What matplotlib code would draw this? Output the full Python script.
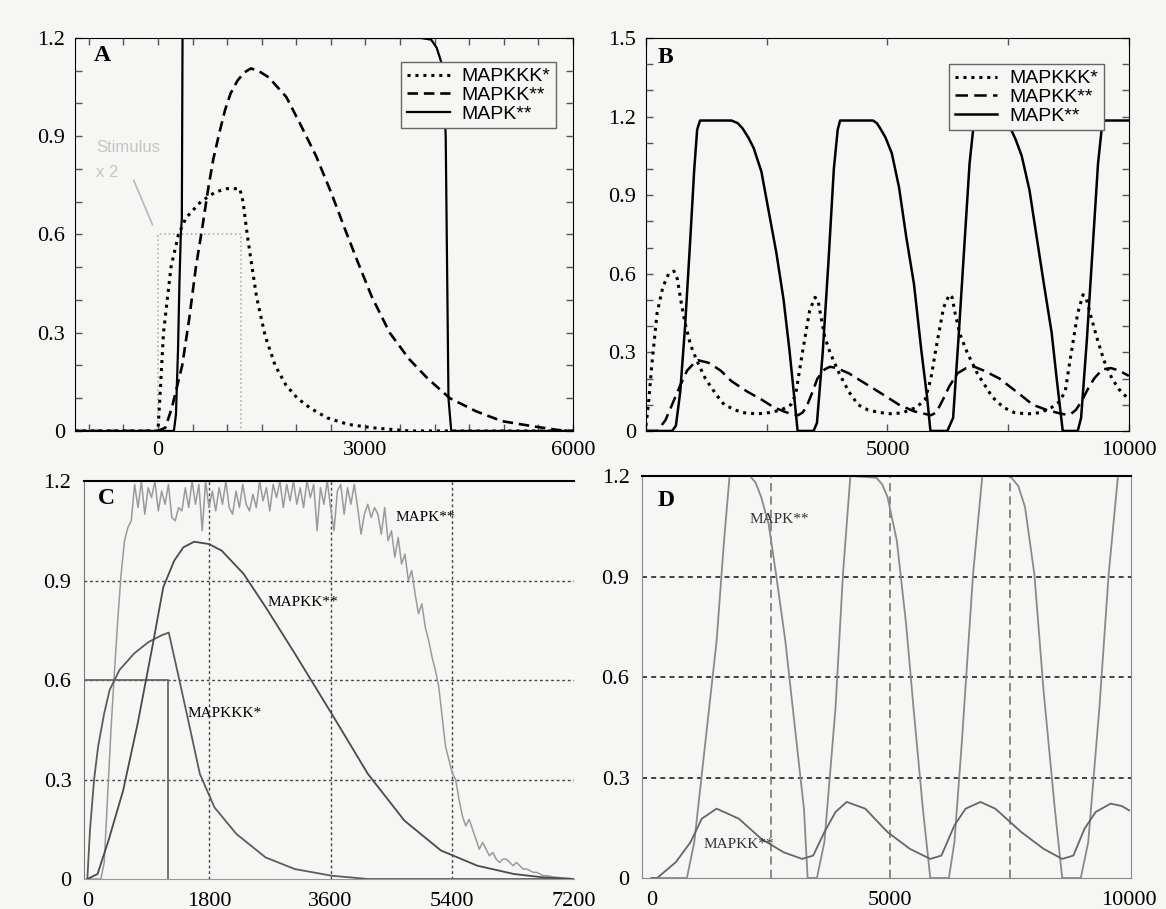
import numpy as np
import matplotlib
matplotlib.use('Agg')
import matplotlib.pyplot as plt

plt.rcParams['font.family'] = 'Liberation Serif'
plt.rcParams['font.size'] = 16

# ---- panel A: transient stimulus ----
stim_t = [0, 0, 1200, 1200]
stim_y = [0, 0.6, 0.6, 0]

a_mapkkk_t = [-1200, 0, 27, 80, 188, 296, 403, 618, 833, 1000, 1183, 1230, 1290, 1360, 1425,
              1550, 1694, 1850, 2016, 2200, 2446, 2750, 3091, 3629, 6000]
a_mapkkk_y = [0, 0, 0.1, 0.3, 0.5, 0.6, 0.65, 0.70, 0.73, 0.74, 0.74, 0.70, 0.6, 0.5, 0.41,
              0.29, 0.2, 0.14, 0.10, 0.07, 0.04, 0.02, 0.01, 0.0, 0.0]

a_mapkk_t = [-1200, 0, 107, 200, 350, 450, 548, 640, 726, 800, 887, 970, 1048, 1150, 1250, 1344,
             1450, 1600, 1855, 2050, 2285, 2500, 2715, 2900, 3091, 3350, 3629, 3900, 4220, 4600,
             4973, 5400, 5780, 6000]
a_mapkk_y = [0, 0, 0.01, 0.07, 0.2, 0.34, 0.5, 0.62, 0.74, 0.83, 0.91, 0.98, 1.03, 1.07, 1.095, 1.107,
             1.1, 1.08, 1.02, 0.94, 0.84, 0.73, 0.61, 0.51, 0.41, 0.3, 0.22, 0.16, 0.10, 0.06,
             0.03, 0.015, 0.003, 0]

a_mapk_t = [-1200, 230, 260, 290, 310, 330, 345, 355, 3800, 3950, 4030, 4090, 4120, 4160, 4200, 4240, 6000]
a_mapk_y = [0, 0, 0.05, 0.25, 0.45, 0.6, 0.65, 1.2, 1.2, 1.195, 1.17, 1.13, 1.09, 0.9, 0.1, 0, 0]

# ---- panel B: sustained stimulus, oscillations ----
b_mapkkk_t = [0, 50, 120, 230, 350, 470, 580, 650, 720, 800, 920, 1050, 1230, 1450, 1620, 1850,
              2000, 2300, 2550, 2800, 3000, 3100, 3240, 3390, 3500, 3560, 3620, 3700, 3810, 4000,
              4200, 4390, 4600, 4850, 5100, 5320, 5600, 5780, 5900, 6010, 6160, 6280, 6340, 6400,
              6500, 6650, 6860, 7170, 7400, 7630, 7900, 8170, 8400, 8550, 8680, 8790, 8940, 9050,
              9110, 9210, 9330, 9480, 9650, 9790, 10000]
b_mapkkk_y = [0.02, 0.1, 0.25, 0.45, 0.55, 0.6, 0.61, 0.58, 0.5, 0.42, 0.33, 0.27, 0.2, 0.14, 0.1, 0.08,
              0.07, 0.065, 0.07, 0.08, 0.1, 0.14, 0.3, 0.46, 0.51, 0.5, 0.44, 0.36, 0.3, 0.22,
              0.15, 0.1, 0.08, 0.07, 0.065, 0.07, 0.09, 0.12, 0.2, 0.32, 0.47, 0.52, 0.51, 0.45,
              0.37, 0.3, 0.22, 0.13, 0.09, 0.07, 0.065, 0.07, 0.09, 0.11, 0.15, 0.28, 0.45, 0.52,
              0.51, 0.44, 0.36, 0.27, 0.2, 0.16, 0.12]

b_mapkk_t = [0, 230, 400, 540, 700, 850, 1000, 1080, 1300, 1550, 1770, 2100, 2390, 2650, 2850, 3000,
             3150, 3240, 3320, 3450, 3550, 3700, 3810, 3950, 4200, 4550, 4900, 5240, 5550, 5780,
             5900, 6010, 6150, 6280, 6450, 6630, 6800, 7000, 7320, 7740, 8010, 8300, 8550, 8700,
             8800, 8900, 9010, 9150, 9280, 9450, 9630, 9800, 10000]
b_mapkk_y = [0, 0, 0.04, 0.1, 0.17, 0.23, 0.26, 0.27, 0.26, 0.23, 0.19, 0.15, 0.12, 0.09, 0.075, 0.065,
             0.06, 0.07, 0.09, 0.15, 0.2, 0.235, 0.245, 0.24, 0.22, 0.18, 0.14, 0.1, 0.075, 0.065,
             0.06, 0.07, 0.12, 0.17, 0.22, 0.24, 0.245, 0.23, 0.2, 0.14, 0.1, 0.08, 0.068, 0.062,
             0.065, 0.08, 0.11, 0.16, 0.2, 0.235, 0.24, 0.23, 0.21]

b_mapk_t = [0, 540, 620, 710, 810, 920, 1000, 1060, 1120, 1770, 1900, 2000, 2120, 2230, 2390, 2540, 2700,
            2850, 2970, 3070, 3140, 3470, 3540, 3660, 3780, 3890, 3970, 4020, 4700, 4780, 4850, 4960,
            5090, 5240, 5390, 5550, 5700, 5820, 5890, 6240, 6360, 6470, 6590, 6700, 6780, 6830, 7400,
            7480, 7550, 7660, 7780, 7940, 8090, 8240, 8400, 8510, 8630, 8940, 9010, 9130, 9250, 9360,
            9440, 9490, 10000]
b_mapk_y = [0, 0, 0.02, 0.15, 0.4, 0.74, 1.0, 1.15, 1.185, 1.185, 1.175, 1.155, 1.12, 1.08, 0.99, 0.84, 0.68,
            0.5, 0.31, 0.13, 0, 0, 0.03, 0.3, 0.65, 1.0, 1.15, 1.185, 1.185, 1.175, 1.155, 1.12,
            1.06, 0.93, 0.74, 0.56, 0.31, 0.13, 0, 0, 0.05, 0.35, 0.7, 1.02, 1.16, 1.185, 1.185,
            1.175, 1.155, 1.11, 1.05, 0.92, 0.74, 0.56, 0.375, 0.19, 0, 0, 0.05, 0.35, 0.7, 1.02,
            1.16, 1.185, 1.185]

# ---- panel C: stochastic simulation, transient stimulus ----
c_stim_t = [-50, 1200, 1200]
c_stim_y = [0.6, 0.6, 0]

c_mapkkk_t = [0, 40, 100, 160, 250, 330, 475, 692, 908, 1100, 1205, 1340, 1502, 1665, 1881, 2205,
              2638, 3070, 3611, 4151, 7200]
c_mapkkk_y = [0, 0.15, 0.3, 0.4, 0.5, 0.57, 0.63, 0.68, 0.715, 0.735, 0.743, 0.62, 0.47, 0.317, 0.216, 0.136,
              0.065, 0.03, 0.01, 0.0, 0.0]

c_mapkk_t = [0, 151, 313, 530, 746, 962, 1124, 1286, 1420, 1580, 1800, 1989, 2313, 2638, 3070, 3611,
             4151, 4692, 5232, 5773, 6314, 6746, 7200]
c_mapkk_y = [0, 0.015, 0.116, 0.267, 0.47, 0.70, 0.88, 0.96, 1.0, 1.017, 1.01, 0.99, 0.92, 0.82, 0.68, 0.50,
             0.317, 0.176, 0.086, 0.04, 0.015, 0.005, 0]

c_mapk_t = np.arange(0, 7201, 50)
c_mapk_y = [0, 0, 0, 0, 0, 0.05, 0.25, 0.45, 0.62, 0.78, 0.92, 1.02, 1.06,
            1.08, 1.19, 1.12, 1.20, 1.10, 1.18, 1.15, 1.20, 1.11, 1.17,
            1.13, 1.19, 1.09, 1.08, 1.12, 1.11, 1.18, 1.12, 1.20, 1.13,
            1.19, 1.05, 1.20, 1.12, 1.17, 1.11, 1.18, 1.13, 1.20, 1.12,
            1.10, 1.17, 1.12, 1.19, 1.13, 1.11, 1.16, 1.12, 1.20, 1.14,
            1.18, 1.11, 1.19, 1.15, 1.20, 1.12, 1.19, 1.14, 1.20, 1.13,
            1.18, 1.12, 1.20, 1.15, 1.19, 1.05, 1.18, 1.13, 1.20, 1.12,
            1.05, 1.17, 1.19, 1.10, 1.18, 1.13, 1.19, 1.12, 1.04, 1.10,
            1.13, 1.09, 1.12,
            1.10, 1.04, 1.12, 1.02, 1.05, 0.97, 1.03, 0.95, 0.98, 0.90,
            0.93, 0.86, 0.80, 0.83, 0.76, 0.72, 0.67, 0.63, 0.58, 0.49,
            0.40, 0.36, 0.32, 0.30, 0.24, 0.19, 0.16, 0.18, 0.15, 0.12,
            0.09, 0.11, 0.09, 0.07, 0.08, 0.06, 0.05, 0.06, 0.06, 0.05,
            0.04, 0.05, 0.04, 0.03, 0.03, 0.025, 0.02, 0.02, 0.015, 0.01,
            0.01, 0.008, 0.006, 0.005, 0.004, 0.003, 0.002, 0.001, 0.0]

# ---- panel D: stochastic simulation, sustained stimulus ----
d_mapk_t = [0, 740, 895, 1128, 1362, 1518, 1634, 2062, 2180, 2296, 2451, 2607, 2802, 2996, 3191, 3268, 3463,
            3619, 3852, 4008, 4163, 4708, 4830, 4942, 5136, 5331, 5486, 5681, 5837, 6226, 6342, 6498,
            6732, 6926, 7510, 7680, 7821, 8016, 8210, 8444, 8599, 8988, 9144, 9377, 9572, 9767, 10000]
d_mapk_y = [0, 0, 0.107, 0.407, 0.707, 1.007, 1.2, 1.2, 1.18, 1.137, 1.057, 0.907, 0.707, 0.457, 0.207, 0, 0,
            0.107, 0.507, 0.907, 1.2, 1.195, 1.175, 1.137, 1.007, 0.757, 0.507, 0.207, 0, 0, 0.107, 0.407,
            0.907, 1.2, 1.2, 1.17, 1.107, 0.907, 0.557, 0.207, 0, 0, 0.107, 0.507, 0.907, 1.2, 1.2]

d_mapkk_t = [0, 117, 506, 817, 1051, 1362, 1829, 2296, 2763, 3152, 3385, 3619, 3852, 4086, 4475, 4942,
             5409, 5837, 6070, 6342, 6576, 6887, 7198, 7743, 8210, 8599, 8833, 9066, 9300, 9611,
             9844, 10000]
d_mapkk_y = [0, 0, 0.047, 0.107, 0.177, 0.207, 0.177, 0.117, 0.077, 0.057, 0.067, 0.137, 0.197, 0.227, 0.207, 0.137,
             0.087, 0.057, 0.067, 0.157, 0.207, 0.227, 0.207, 0.137, 0.087, 0.057, 0.067, 0.147, 0.197, 0.222,
             0.215, 0.202]

labels = ['MAPKKK*', 'MAPKK**', 'MAPK**']
bg = '#f6f6f4'

fig = plt.figure(figsize=(11.66, 9.09), dpi=100, facecolor=bg)
axA = fig.add_axes([0.0643, 0.5259, 0.4271, 0.4323])
axB = fig.add_axes([0.554, 0.5259, 0.4142, 0.4323])
axC = fig.add_axes([0.072, 0.033, 0.4202, 0.4378])
axD = fig.add_axes([0.5506, 0.0341, 0.4194, 0.4422])

def fmt(v):
    return '0' if v == 0 else ('%g' % v)

def label_ticks(ax, xt, xshow, yt, yshow):
    ax.set_xticks(xt)
    ax.set_xticklabels([fmt(v) if v in xshow else '' for v in xt])
    ax.set_yticks(yt)
    ax.set_yticklabels([fmt(round(v, 1)) if round(v, 1) in yshow else '' for v in yt])

legend_kw = dict(borderaxespad=0, prop={'family': 'Liberation Sans', 'size': 14}, fancybox=False,
                 framealpha=1, edgecolor='#666', handlelength=2.2, handletextpad=0.6,
                 labelspacing=0.05, borderpad=0.3, facecolor=bg)

# panel A
ax = axA
ax.set_facecolor(bg)
ax.plot(stim_t, stim_y, color='#b0b0b0', lw=1.2, ls=':')
ax.plot(a_mapkkk_t, a_mapkkk_y, color='k', lw=2.2, ls=(0, (1, 1.6)), label=labels[0])
ax.plot(a_mapkk_t, a_mapkk_y, color='k', lw=1.9, ls=(0, (4, 2.2)), label=labels[1])
ax.plot(a_mapk_t, a_mapk_y, color='k', lw=1.6, label=labels[2])
ax.set_xlim(-1200, 6000)
ax.set_ylim(0, 1.2)
label_ticks(ax, list(range(-1000, 6001, 500)), [0, 3000, 6000],
            np.arange(0, 1.21, 0.1), [0, 0.3, 0.6, 0.9, 1.2])
ax.tick_params(direction='in', top=True, right=True, length=5, width=1, color='#555', pad=7)
ax.text(0.055, 0.955, 'A', transform=ax.transAxes, fontsize=17, fontweight='bold', ha='center', va='center')
ax.text(-890, 0.865, 'Stimulus', color='#c4c4c4', fontsize=12, family='Liberation Sans', va='center')
ax.text(-890, 0.79, 'x 2', color='#c4c4c4', fontsize=12, family='Liberation Sans', va='center')
ax.plot([-350, -80], [0.765, 0.63], color='#b8b8b8', lw=1.2)
ax.legend(loc='upper right', bbox_to_anchor=(0.966, 0.939), **legend_kw)

# panel B
ax = axB
ax.set_facecolor(bg)
ax.plot(b_mapkkk_t, b_mapkkk_y, color='k', lw=2.2, ls=(0, (1, 1.6)), label=labels[0])
ax.plot(b_mapkk_t, b_mapkk_y, color='k', lw=1.8, ls=(0, (5, 2.5)), label=labels[1])
ax.plot(b_mapk_t, b_mapk_y, color='k', lw=1.8, label=labels[2])
ax.set_xlim(0, 10000)
ax.set_ylim(0, 1.5)
label_ticks(ax, [0, 2500, 5000, 7500, 10000], [5000, 10000],
            np.arange(0, 1.51, 0.1), [0, 0.3, 0.6, 0.9, 1.2, 1.5])
ax.tick_params(direction='in', top=True, right=True, length=5, width=1, color='#555', pad=7)
ax.text(0.04, 0.95, 'B', transform=ax.transAxes, fontsize=17, fontweight='bold', ha='center', va='center')
ax.legend(loc='upper right', bbox_to_anchor=(0.948, 0.934), **legend_kw)

# panel C
ax = axC
ax.set_facecolor(bg)
for g in [0.3, 0.6, 0.9]:
    ax.axhline(g, color='#444', lw=1, ls=(0, (2, 2)))
for g in [1800, 3600, 5400]:
    ax.axvline(g, color='#444', lw=1, ls=(0, (2, 2)))
ax.plot(c_mapk_t, c_mapk_y, color='#9a9a9a', lw=1.1)
ax.plot(c_stim_t, c_stim_y, color='#666', lw=1.3)
ax.plot(c_mapkkk_t, c_mapkkk_y, color='#5c5c5c', lw=1.3)
ax.plot(c_mapkk_t, c_mapkk_y, color='#4a4a4a', lw=1.3)
ax.set_xlim(-50, 7200)
ax.set_ylim(0, 1.2)
ax.set_xticks([0, 1800, 3600, 5400, 7200])
ax.set_yticks([0, 0.3, 0.6, 0.9, 1.2])
ax.set_yticklabels(['0', '0.3', '0.6', '0.9', '1.2'])
ax.tick_params(length=0, pad=9)
ax.spines['right'].set_visible(False)
ax.spines['top'].set_color('k')
ax.spines['top'].set_linewidth(1.5)
ax.spines['left'].set_color('#777')
ax.spines['bottom'].set_color('#999')
ax.text(0.045, 0.955, 'C', transform=ax.transAxes, fontsize=17, fontweight='bold', ha='center', va='center')
ax.text(4560, 1.09, 'MAPK**', fontsize=11, va='center')
ax.text(2665, 0.834, 'MAPKK**', fontsize=11, va='center')
ax.text(1476, 0.498, 'MAPKKK*', fontsize=11, va='center')

# panel D
ax = axD
ax.set_facecolor(bg)
for g in [0.3, 0.6, 0.9]:
    ax.axhline(g, color='#222', lw=1.2, ls=(0, (3, 2.5)))
for g in [2500, 5000, 7500]:
    ax.axvline(g, color='#777', lw=1.2, ls=(0, (5, 3)))
ax.plot(d_mapk_t, d_mapk_y, color='#8a8a8a', lw=1.3)
ax.plot(d_mapkk_t, d_mapkk_y, color='#666', lw=1.3)
ax.set_xlim(-200, 10040)
ax.set_ylim(0, 1.2)
ax.set_xticks([0, 5000, 10000])
ax.set_yticks([0, 0.3, 0.6, 0.9, 1.2])
ax.set_yticklabels(['0', '0.3', '0.6', '0.9', '1.2'])
ax.tick_params(length=0, pad=9)
ax.spines['top'].set_color('k')
ax.spines['top'].set_linewidth(1.5)
for s in ['left', 'right', 'bottom']:
    ax.spines[s].set_color('#888')
ax.text(0.05, 0.94, 'D', transform=ax.transAxes, fontsize=17, fontweight='bold', ha='center', va='center')
ax.text(2062, 1.07, 'MAPK**', fontsize=11, va='center', color='#333')
ax.text(1090, 0.1, 'MAPKK**', fontsize=11, va='center', color='#333')

fig.savefig('out.png', dpi=100, facecolor=bg)
